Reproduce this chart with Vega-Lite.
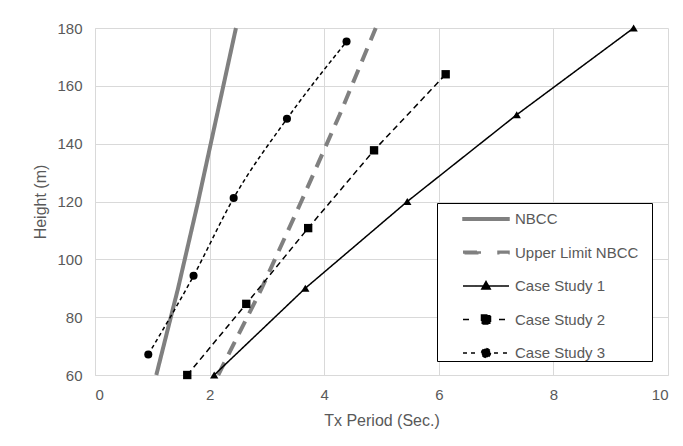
{
  "$schema": "https://vega.github.io/schema/vega-lite/v6.json",
  "autosize": "none",
  "width": 573,
  "height": 347,
  "padding": {"left": 95, "top": 28, "right": 15, "bottom": 71},
  "background": "white",
  "config": {
    "view": {"stroke": null},
    "font": "Liberation Sans",
    "axis": {
      "domainColor": "#d9d9d9",
      "gridColor": "#d9d9d9",
      "gridWidth": 1,
      "ticks": false,
      "labelColor": "#595959",
      "labelFontSize": 15,
      "labelFont": "Liberation Sans",
      "titleColor": "#595959",
      "titleFontSize": 16,
      "titleFontWeight": "normal",
      "titleFont": "Liberation Sans"
    }
  },
  "data": {
    "values": [
      {"series": "NBCC", "x": 1.07, "y": 60},
      {"series": "NBCC", "x": 1.45, "y": 90},
      {"series": "NBCC", "x": 1.80, "y": 120},
      {"series": "NBCC", "x": 2.13, "y": 150},
      {"series": "NBCC", "x": 2.46, "y": 180},
      {"series": "Upper Limit NBCC", "x": 2.15, "y": 60},
      {"series": "Upper Limit NBCC", "x": 2.91, "y": 90},
      {"series": "Upper Limit NBCC", "x": 3.60, "y": 120},
      {"series": "Upper Limit NBCC", "x": 4.27, "y": 150},
      {"series": "Upper Limit NBCC", "x": 4.90, "y": 180},
      {"series": "Case Study 1", "x": 2.08, "y": 60},
      {"series": "Case Study 1", "x": 3.67, "y": 90},
      {"series": "Case Study 1", "x": 5.45, "y": 120},
      {"series": "Case Study 1", "x": 7.36, "y": 150},
      {"series": "Case Study 1", "x": 9.40, "y": 180},
      {"series": "Case Study 2", "x": 1.61, "y": 60},
      {"series": "Case Study 2", "x": 2.64, "y": 84.6},
      {"series": "Case Study 2", "x": 3.72, "y": 110.8},
      {"series": "Case Study 2", "x": 4.87, "y": 137.7},
      {"series": "Case Study 2", "x": 6.12, "y": 164.0},
      {"series": "Case Study 3", "x": 0.93, "y": 67.1},
      {"series": "Case Study 3", "x": 1.72, "y": 94.3},
      {"series": "Case Study 3", "x": 2.42, "y": 121.2},
      {"series": "Case Study 3", "x": 3.35, "y": 148.6},
      {"series": "Case Study 3", "x": 4.39, "y": 175.3}
    ]
  },
  "encoding": {
    "x": {
      "field": "x", "type": "quantitative",
      "scale": {"domain": [0, 10], "nice": false},
      "axis": {"values": [0, 2, 4, 6, 8, 10], "title": "Tx Period (Sec.)", "labelPadding": 12, "titlePadding": 10}
    },
    "y": {
      "field": "y", "type": "quantitative",
      "scale": {"domain": [60, 180], "nice": false, "zero": false},
      "axis": {"values": [60, 80, 100, 120, 140, 160, 180], "title": "Height (m)", "labelPadding": 13, "titlePadding": 8}
    }
  },
  "layer": [
    {
      "transform": [{"filter": "false"}],
      "mark": {"type": "point", "filled": true, "opacity": 1},
      "encoding": {
        "color": {
          "field": "series", "type": "nominal",
          "scale": {
            "domain": ["NBCC", "Upper Limit NBCC", "Case Study 1", "Case Study 2", "Case Study 3"],
            "range": ["#808080", "#808080", "#000000", "#000000", "#000000"]
          },
          "legend": {
            "title": "\u00a0\u00a0",
            "titleOrient": "right",
            "titlePadding": 14,
            "titleFontSize": 15,
            "orient": "none",
            "legendX": 342,
            "legendY": 175,
            "strokeColor": "#000000",
            "fillColor": "white",
            "padding": 0,
            "symbolSize": 900,
            "symbolStrokeWidth": 1.5,
            "rowPadding": 9.5,
            "labelOffset": 46,
            "labelFontSize": 15,
            "labelColor": "#595959",
            "labelFont": "Liberation Sans"
          }
        },
        "stroke": {
          "field": "series", "type": "nominal",
          "scale": {
            "domain": ["NBCC", "Upper Limit NBCC", "Case Study 1", "Case Study 2", "Case Study 3"],
            "range": ["#808080", "#808080", "#000000", "#000000", "#000000"]
          },
          "legend": {"title": "\u00a0\u00a0"}
        },
        "shape": {
          "field": "series", "type": "nominal",
          "scale": {
            "domain": ["NBCC", "Upper Limit NBCC", "Case Study 1", "Case Study 2", "Case Study 3"],
            "range": [
              "M0.667,-0.083H3.733V0.083H0.667Z",
              "M0.667,-0.083H1.867V0.083H0.667ZM3,-0.083H3.733V0.083H3Z",
              "M0.667,0H3.733M2.2,-0.3L2.48,0.2L1.92,0.2Z",
              "M0.667,0H1.333M3.067,0H3.733M1.9,-0.3H2.5V0.3H1.9Z",
              "M0.667,0H1M1.2,0H1.667M2.733,0H3.067M3.333,0H3.733M2.5,0A0.3,0.3,0,1,1,1.9,0A0.3,0.3,0,1,1,2.5,0Z"
            ]
          },
          "legend": {"title": "\u00a0\u00a0"}
        }
      }
    },
    {
      "transform": [{"filter": "datum.series == 'NBCC' || datum.series == 'Upper Limit NBCC'"}],
      "mark": {"type": "line", "strokeWidth": 4},
      "encoding": {
        "color": {"field": "series", "type": "nominal", "legend": null},
        "strokeDash": {
          "field": "series", "type": "nominal",
          "scale": {
            "domain": ["NBCC", "Upper Limit NBCC", "Case Study 1", "Case Study 2", "Case Study 3"],
            "range": [[1, 0], [14, 9], [1, 0], [6, 4], [4, 3]]
          },
          "legend": null
        }
      }
    },
    {
      "transform": [{"filter": "datum.series == 'Case Study 1' || datum.series == 'Case Study 2'"}],
      "mark": {"type": "line", "strokeWidth": 1.5},
      "encoding": {
        "color": {"field": "series", "type": "nominal", "legend": null},
        "strokeDash": {"field": "series", "type": "nominal", "legend": null}
      }
    },
    {
      "transform": [{"filter": "datum.series == 'Case Study 3'"}],
      "mark": {"type": "line", "interpolate": "monotone", "strokeWidth": 1.5},
      "encoding": {
        "color": {"field": "series", "type": "nominal", "legend": null},
        "strokeDash": {"field": "series", "type": "nominal", "legend": null}
      }
    },
    {
      "transform": [{"filter": "datum.series == 'Case Study 1'"}],
      "mark": {"type": "point", "shape": "triangle-up", "filled": true, "opacity": 1, "color": "#000000", "size": 70},
      "encoding": {}
    },
    {
      "transform": [{"filter": "datum.series == 'Case Study 2'"}],
      "mark": {"type": "point", "shape": "square", "filled": true, "opacity": 1, "color": "#000000", "size": 70},
      "encoding": {}
    },
    {
      "transform": [{"filter": "datum.series == 'Case Study 3'"}],
      "mark": {"type": "point", "shape": "circle", "filled": true, "opacity": 1, "color": "#000000", "size": 65},
      "encoding": {}
    }
  ]
}
